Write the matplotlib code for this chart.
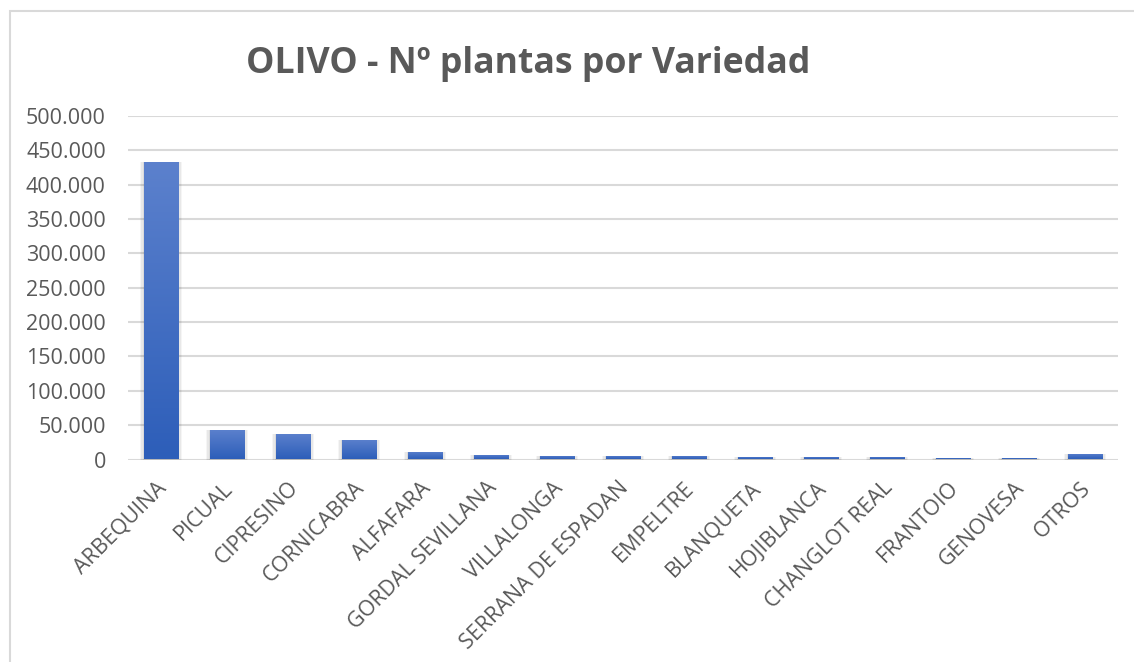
import numpy as np
import matplotlib
matplotlib.use("Agg")
import matplotlib.pyplot as plt
import matplotlib.transforms as mtransforms
from matplotlib.patches import Rectangle
from matplotlib.colors import LinearSegmentedColormap
from matplotlib.ticker import FuncFormatter, MultipleLocator

plt.rcParams['font.family'] = ['Open Sans', 'DejaVu Sans']

variedades = ['ARBEQUINA', 'PICUAL', 'CIPRESINO', 'CORNICABRA', 'ALFAFARA',
              'GORDAL SEVILLANA', 'VILLALONGA', 'SERRANA DE ESPADAN', 'EMPELTRE',
              'BLANQUETA', 'HOJIBLANCA', 'CHANGLOT REAL', 'FRANTOIO', 'GENOVESA', 'OTROS']
plantas = [433000, 43000, 37000, 28500, 11000, 6500, 5200, 5000, 5000,
           3600, 3500, 3300, 2000, 2000, 8000]

grey = '#595959'
grid_c = '#d9d9d9'

fig = plt.figure(figsize=(11.34, 6.62), dpi=100)
ax = fig.add_axes([128/1134, 202.5/662, 990/1134, 343.5/662])

# borde del grafico
fig.patches.append(Rectangle((10/1134, -0.1), 1.2, (662-10.5)/662 + 0.1,
                             transform=fig.transFigure, fill=False,
                             edgecolor=grid_c, linewidth=1.5))

x = np.arange(len(variedades))
bars = ax.bar(x, plantas, width=0.52, color='none', edgecolor='none', zorder=3)

cmap = LinearSegmentedColormap.from_list('azul', ['#2d5eb9', '#5c81cd'])
grad = np.linspace(0, 1, 256).reshape(-1, 1)
for r in bars:
    x0, w, h = r.get_x(), r.get_width(), r.get_height()
    # sombra suave
    for k, a in [(0.06, 0.04), (0.04, 0.05), (0.02, 0.06)]:
        ax.add_patch(Rectangle((x0 - k, 0), w + 2 * k, h + k * 4000,
                               facecolor='black', edgecolor='none', alpha=a, zorder=2))
    im = ax.imshow(grad, cmap=cmap, origin='lower', aspect='auto',
                   extent=(x0, x0 + w, 0, h), zorder=3, interpolation='bilinear')
    im.set_clip_path(r)

ax.set_xlim(-0.5, len(variedades) - 0.5)
ax.set_ylim(0, 500000)
ax.yaxis.set_major_locator(MultipleLocator(50000))
ax.yaxis.set_major_formatter(FuncFormatter(lambda v, p: f"{int(v):,}".replace(',', '.')))
ax.grid(axis='y', color=grid_c, linewidth=1.5, zorder=0)
ax.set_axisbelow(True)
for s in ax.spines.values():
    s.set_visible(False)

ax.tick_params(axis='y', length=0, pad=16, labelsize=15.5, labelcolor=grey)
ax.tick_params(axis='x', length=0, pad=8, labelsize=15.5, labelcolor=grey)
ax.set_xticks(x)
ax.set_xticklabels(variedades, rotation=45, ha='right', va='top', rotation_mode='anchor')
offset = mtransforms.ScaledTranslation(-5/100, -7/100, fig.dpi_scale_trans)
for lbl in ax.get_xticklabels():
    lbl.set_transform(lbl.get_transform() + offset)

fig.text(528/1134, (662-73)/662, 'OLIVO - Nº plantas por Variedad', ha='center',
         va='baseline', fontsize=25.7, fontweight='bold', color=grey)

fig.savefig('out.png', dpi=100)
